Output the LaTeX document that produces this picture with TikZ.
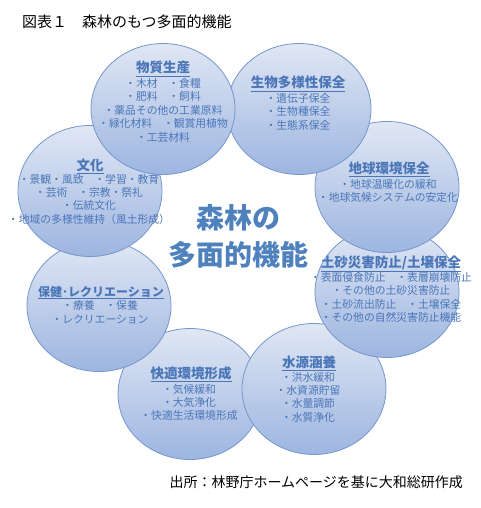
\documentclass[tikz,border=0pt]{standalone}
\usepackage{fontspec}
\setmainfont{Noto Sans CJK JP}
\usepackage{tikz}
\usetikzlibrary{shapes.geometric, positioning}

\definecolor{bubbleTop}{HTML}{E0E7F4}
\definecolor{bubbleBot}{HTML}{9DB5E0}
\definecolor{bubbleLine}{HTML}{7396CC}
\definecolor{textBlue}{HTML}{4A76B8}
\definecolor{centreBlue}{HTML}{4F81BD}

\begin{document}
\begin{tikzpicture}[
    x=1pt, y=-1pt,
    bubble/.style={ellipse, draw=bubbleLine, line width=0.8pt, top color=bubbleTop,
                   bottom color=bubbleBot, minimum width=144pt, minimum height=131pt},
    head/.style={anchor=base, inner sep=0pt, text=textBlue,
                 font=\fontsize{13.5}{16}\selectfont\bfseries},
    items/.style={anchor=base, inner sep=0pt, align=center, text=textBlue,
                  font=\fontsize{10.8}{#1}\selectfont},
    items/.default=13.5
]
    \useasboundingbox (0,0) rectangle (480,508);

    % Caption
    \node[anchor=base west, inner sep=0pt, font=\fontsize{15}{18}\selectfont] (cap) at (22, 27.5)
        {図表１　森林のもつ多面的機能};

    % Bubbles, back to front
    \node[bubble] (b6) at (190, 394) {};
    \node[bubble] (b5) at (314, 389) {};
    \node[bubble] (b4) at (387, 292) {};
    \node[bubble] (b3) at (387, 187) {};
    \node[bubble] (b2) at (299, 109) {};
    \node[bubble] (b7) at (99, 306) {};
    \node[bubble] (b8) at (90, 191) {};
    \node[bubble] (b1) at (163, 109) {};

    % Centre
    \node[align=center, text=centreBlue, font=\fontsize{28}{37}\selectfont\bfseries] (ctr)
        at (238, 236.5) {森林の\\多面的機能};

    % 1: material production (items placed by last baseline)
    \node[head] (t1) at (163, 73) {\underline{物質生産}};
    \node[items] (i1) at (163, 141) {・木材　・食糧\\・肥料　・飼料\\・薬品その他の工業原料\\・緑化材料　・観賞用植物\\・工芸材料};

    % 2: biodiversity
    \node[head] (t2) at (298, 88) {\underline{生物多様性保全}};
    \node[items] (i2) at (298, 129) {・遺伝子保全\\・生物種保全\\・生態系保全};

    % 3: global environment
    \node[head] (t3) at (389, 173) {\underline{地球環境保全}};
    \node[items=13] (i3) at (388, 201) {・地球温暖化の緩和\\・地球気候システムの安定化};

    % 4: landslide / soil
    \node[head] (t4) at (391, 267) {\underline{土砂災害防止/土壌保全}};
    \node[items] (i4) at (391, 321.5) {・表面侵食防止　・表層崩壊防止\\・その他の土砂災害防止\\・土砂流出防止　・土壌保全\\・その他の自然災害防止機能};

    % 5: water
    \node[head] (t5) at (309, 367) {\underline{水源涵養}};
    \node[items=13.3] (i5) at (308, 421) {・洪水緩和\\・水資源貯留\\・水量調節\\・水質浄化};

    % 6: comfortable environment
    \node[head] (t6) at (191, 378) {\underline{快適環境形成}};
    \node[items=13] (i6) at (189, 419) {・気候緩和\\・大気浄化\\・快適生活環境形成};

    % 7: health / recreation
    \node[head, font=\fontsize{12}{15}\selectfont\bfseries] (t7) at (101, 296) {\underline{保健･レクリエーション}};
    \node[items=14] (i7) at (100, 323) {・療養　・保養\\・レクリエーション};

    % 8: culture
    \node[head] (t8) at (90, 170) {\underline{文化}};
    \node[items=13.4] (i8) at (89, 223.2) {・景観・風致　・学習・教育\\・芸術　・宗教・祭礼\\・伝統文化\\・地域の多様性維持（風土形成）};

    % Source
    \node[anchor=base east, inner sep=0pt, font=\fontsize{14}{17}\selectfont] (src) at (463, 487)
        {出所：林野庁ホームページを基に大和総研作成};
\end{tikzpicture}
\end{document}
